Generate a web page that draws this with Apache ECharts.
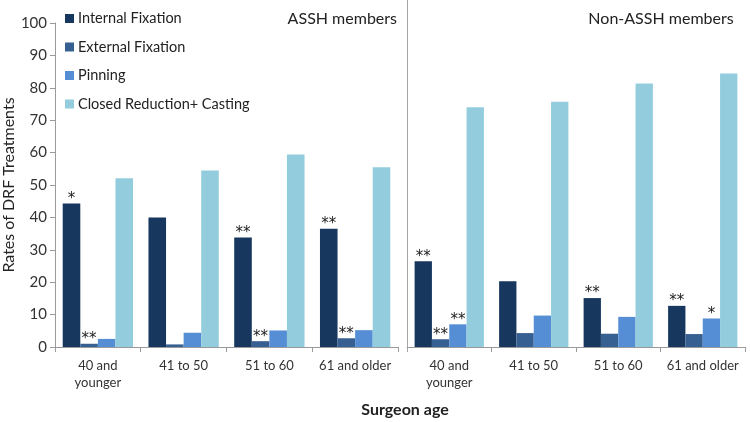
<!DOCTYPE html>
<html>
<head>
<meta charset="utf-8">
<script src="https://cdn.jsdelivr.net/npm/echarts@6/dist/echarts.min.js"></script>
<style>html,body{margin:0;padding:0;background:#fff}#c{width:750px;height:422px}</style>
</head>
<body>
<div id="c"></div>
<script>
var categories = ['40 and\nyounger', '41 to 50', '51 to 60', '61 and older'];
var seriesNames = ['Internal Fixation', 'External Fixation', 'Pinning', 'Closed Reduction+ Casting'];
var colors = ['#17375E', '#376092', '#558ED5', '#93CDDD'];
var yTicks = [0, 10, 20, 30, 40, 50, 60, 70, 80, 90, 100];

// ASSH members
var asshInternal = [44.3, 40.0, 33.8, 36.5];
var asshExternal = [1.0, 0.8, 1.8, 2.7];
var asshPinning = [2.5, 4.4, 5.1, 5.2];
var asshCasting = [52.1, 54.5, 59.4, 55.5];
// significance markers ASSH
var asshInternalSig = ['*', '', '**', '**'];
var asshExternalSig = ['**', '', '**', '**'];
var asshPinningSig = ['', '', '', ''];
var asshCastingSig = ['', '', '', ''];

// Non-ASSH members
var nonInternal = [26.5, 20.3, 15.1, 12.7];
var nonExternal = [2.4, 4.3, 4.1, 4.0];
var nonPinning = [7.0, 9.7, 9.3, 8.8];
var nonCasting = [74.0, 75.7, 81.3, 84.4];
// significance markers Non-ASSH
var nonInternalSig = ['**', '', '**', '**'];
var nonExternalSig = ['**', '', '', ''];
var nonPinningSig = ['**', '', '', '*'];
var nonCastingSig = ['', '', '', ''];

var FONT = 'Lato, "Open Sans", sans-serif';

function build(values, sig) {
  return values.map(function (v, i) {
    var o = { value: v };
    if (sig[i]) {
      o.label = { show: true, formatter: sig[i] };
    }
    return o;
  });
}

var asshSets = [[asshInternal, asshInternalSig], [asshExternal, asshExternalSig], [asshPinning, asshPinningSig], [asshCasting, asshCastingSig]];
var nonSets = [[nonInternal, nonInternalSig], [nonExternal, nonExternalSig], [nonPinning, nonPinningSig], [nonCasting, nonCastingSig]];

var series = [];
[asshSets, nonSets].forEach(function (sets, g) {
  sets.forEach(function (s, k) {
    series.push({
      name: seriesNames[k],
      type: 'bar',
      xAxisIndex: g,
      yAxisIndex: g,
      barGap: '0%',
      barCategoryGap: '18%',
      itemStyle: { color: colors[k] },
      label: { show: false, position: 'top', distance: -3, fontSize: 15, color: '#222', fontFamily: '"DejaVu Sans", sans-serif' },
      data: build(s[0], s[1]),
      animation: false
    });
  });
});

var axisColor = '#9A9A9A';
function xAx(i) {
  return {
    type: 'category', gridIndex: i, data: categories,
    axisLine: { lineStyle: { color: axisColor } },
    axisTick: { show: true, length: 5, lineStyle: { color: axisColor } },
    axisLabel: { interval: 0, fontSize: 13, lineHeight: 17, margin: 10, color: '#333', fontFamily: FONT }
  };
}

var chart = echarts.init(document.getElementById('c'), null, { renderer: 'canvas' });
chart.setOption({
  animation: false,
  textStyle: { fontFamily: FONT },
  grid: [
    { left: 52, top: 23, width: 346, height: 324 },
    { left: 407, top: 23, width: 338, height: 324 }
  ],
  legend: {
    data: seriesNames, orient: 'vertical', left: 60, top: 6,
    itemWidth: 9, itemHeight: 9, itemGap: 13.5, icon: 'rect',
    textStyle: { fontSize: 14.5, lineHeight: 14, color: '#222', fontFamily: FONT, padding: [0, 0, 0, -1] }
  },
  xAxis: [xAx(0), xAx(1)],
  yAxis: [
    {
      type: 'value', gridIndex: 0, min: yTicks[0], max: yTicks[yTicks.length - 1], interval: yTicks[1] - yTicks[0],
      name: 'Rates of DRF Treatments', nameLocation: 'middle', nameGap: 32,
      nameTextStyle: { fontSize: 16, color: '#222', fontFamily: FONT },
      axisLine: { show: true, lineStyle: { color: axisColor } },
      axisTick: { show: true, length: 5, lineStyle: { color: axisColor } },
      axisLabel: { fontSize: 15, margin: 8, color: '#333', fontFamily: FONT },
      splitLine: { show: false }
    },
    {
      type: 'value', gridIndex: 1, min: yTicks[0], max: yTicks[yTicks.length - 1], interval: yTicks[1] - yTicks[0],
      axisLine: { show: false }, axisTick: { show: false }, axisLabel: { show: false },
      splitLine: { show: false }
    }
  ],
  graphic: [
    { type: 'line', shape: { x1: 407.5, y1: 0, x2: 407.5, y2: 352 }, style: { stroke: '#A6A6A6', lineWidth: 1 }, z: 10 },
    { type: 'text', x: 397, y: 19, style: { text: 'ASSH members', fontSize: 16, fill: '#222', fontFamily: FONT, align: 'right', verticalAlign: 'middle' } },
    { type: 'text', x: 661, y: 19, style: { text: 'Non-ASSH members', fontSize: 16, fill: '#222', fontFamily: FONT, align: 'center', verticalAlign: 'middle' } },
    { type: 'text', x: 405, y: 410, style: { text: 'Surgeon age', fontSize: 16, fontWeight: 'bold', fill: '#222', fontFamily: FONT, align: 'center', verticalAlign: 'middle' } }
  ],
  series: series
});
</script>
</body>
</html>
